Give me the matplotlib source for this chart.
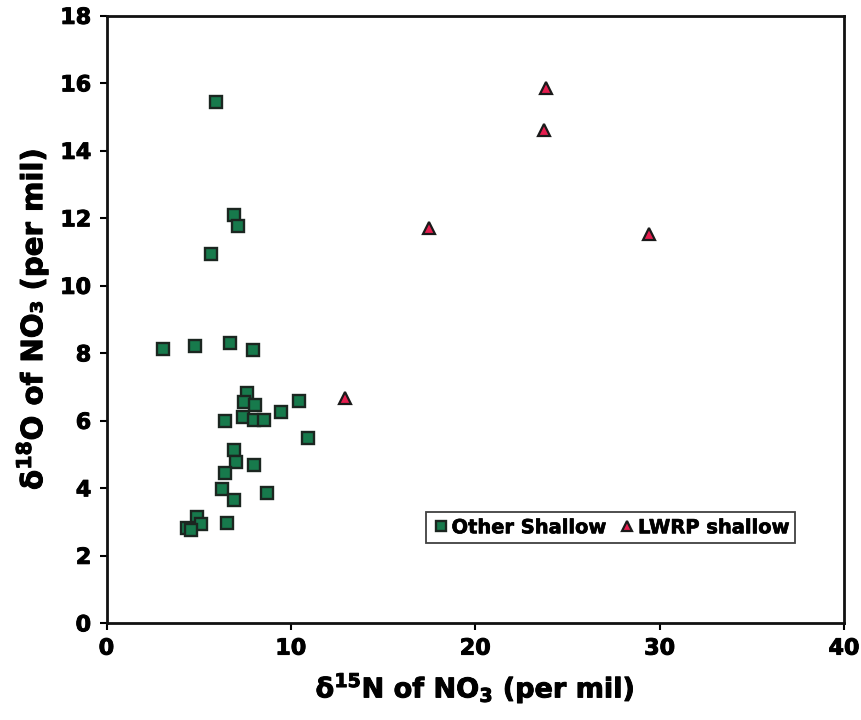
import matplotlib
matplotlib.use("Agg")
import matplotlib.pyplot as plt
import matplotlib.patheffects as pe

plt.rcParams['font.family'] = ['DejaVu Sans']
plt.rcParams['mathtext.fontset'] = 'dejavusans'

other_n15 = [3.05, 4.82, 6.71, 7.94, 7.64, 7.47, 8.05, 7.39, 8.00, 8.52, 6.43,
             9.48, 10.46, 10.94, 6.93, 7.02, 8.02, 6.44, 6.28, 6.93, 8.70,
             4.92, 5.12, 6.52, 4.35, 4.57, 5.94, 6.90, 7.11, 5.67]
other_o18 = [8.12, 8.22, 8.32, 8.10, 6.83, 6.56, 6.48, 6.11, 6.01, 6.01, 5.98,
             6.26, 6.58, 5.49, 5.15, 4.79, 4.70, 4.44, 3.97, 3.65, 3.85,
             3.14, 2.93, 2.97, 2.81, 2.76, 15.46, 12.09, 11.78, 10.95]

lwrp_n15 = [23.83, 23.73, 17.49, 29.42, 12.93]
lwrp_o18 = [15.86, 14.61, 11.70, 11.55, 6.69]

x_ticks = [0, 10, 20, 30, 40]
y_ticks = [0, 2, 4, 6, 8, 10, 12, 14, 16, 18]

heavy = [pe.withStroke(linewidth=0.7, foreground='black')]

fig = plt.figure(figsize=(8.61, 7.2), dpi=100)
ax = fig.add_axes([0.1237, 0.1343, 0.8566, 0.8437])

ax.plot(other_n15, other_o18, linestyle='none', marker='s', markersize=8,
        markerfacecolor='#177a4c', markeredgecolor='#1b2620', markeredgewidth=1.7,
        label='Other Shallow')
ax.plot(lwrp_n15, lwrp_o18, linestyle='none', marker='^', markersize=8.5,
        markerfacecolor='#e51e4f', markeredgecolor='#1a1a1a', markeredgewidth=1.6,
        label='LWRP shallow')

ax.set_xlim(0, 40)
ax.set_ylim(0, 18)
ax.set_xticks(x_ticks)
ax.set_yticks(y_ticks)
for s in ax.spines.values():
    s.set_linewidth(2)
    s.set_color('#111111')
ax.tick_params(direction='out', length=5, width=1.5, labelsize=16, pad=6)
for lab in ax.get_xticklabels() + ax.get_yticklabels():
    lab.set_fontweight('bold')
    lab.set_path_effects(heavy)

xl = ax.set_xlabel(r'$\mathbf{\delta}^{\mathbf{15}}$N of NO$_{\mathbf{3}}$ (per mil)',
                   fontsize=19.5, fontweight='bold', labelpad=9)
yl = ax.set_ylabel(r'$\mathbf{\delta}^{\mathbf{18}}$O of NO₃ (per mil)',
                   fontsize=21, fontweight='bold', labelpad=7)
xl.set_path_effects(heavy)
yl.set_path_effects(heavy)

leg = ax.legend(loc='lower right', bbox_to_anchor=(0.934, 0.132), ncol=2,
                fancybox=False, frameon=True, handletextpad=0.1, columnspacing=0.6,
                handlelength=0.9, borderpad=0.3, borderaxespad=0, markerscale=0.85,
                prop={'weight': 'bold', 'size': 14})
leg.get_frame().set_edgecolor('#111111')
leg.get_frame().set_linewidth(1.3)
for t in leg.get_texts():
    t.set_path_effects([pe.withStroke(linewidth=0.5, foreground='black')])

fig.savefig('out.png', dpi=100)
